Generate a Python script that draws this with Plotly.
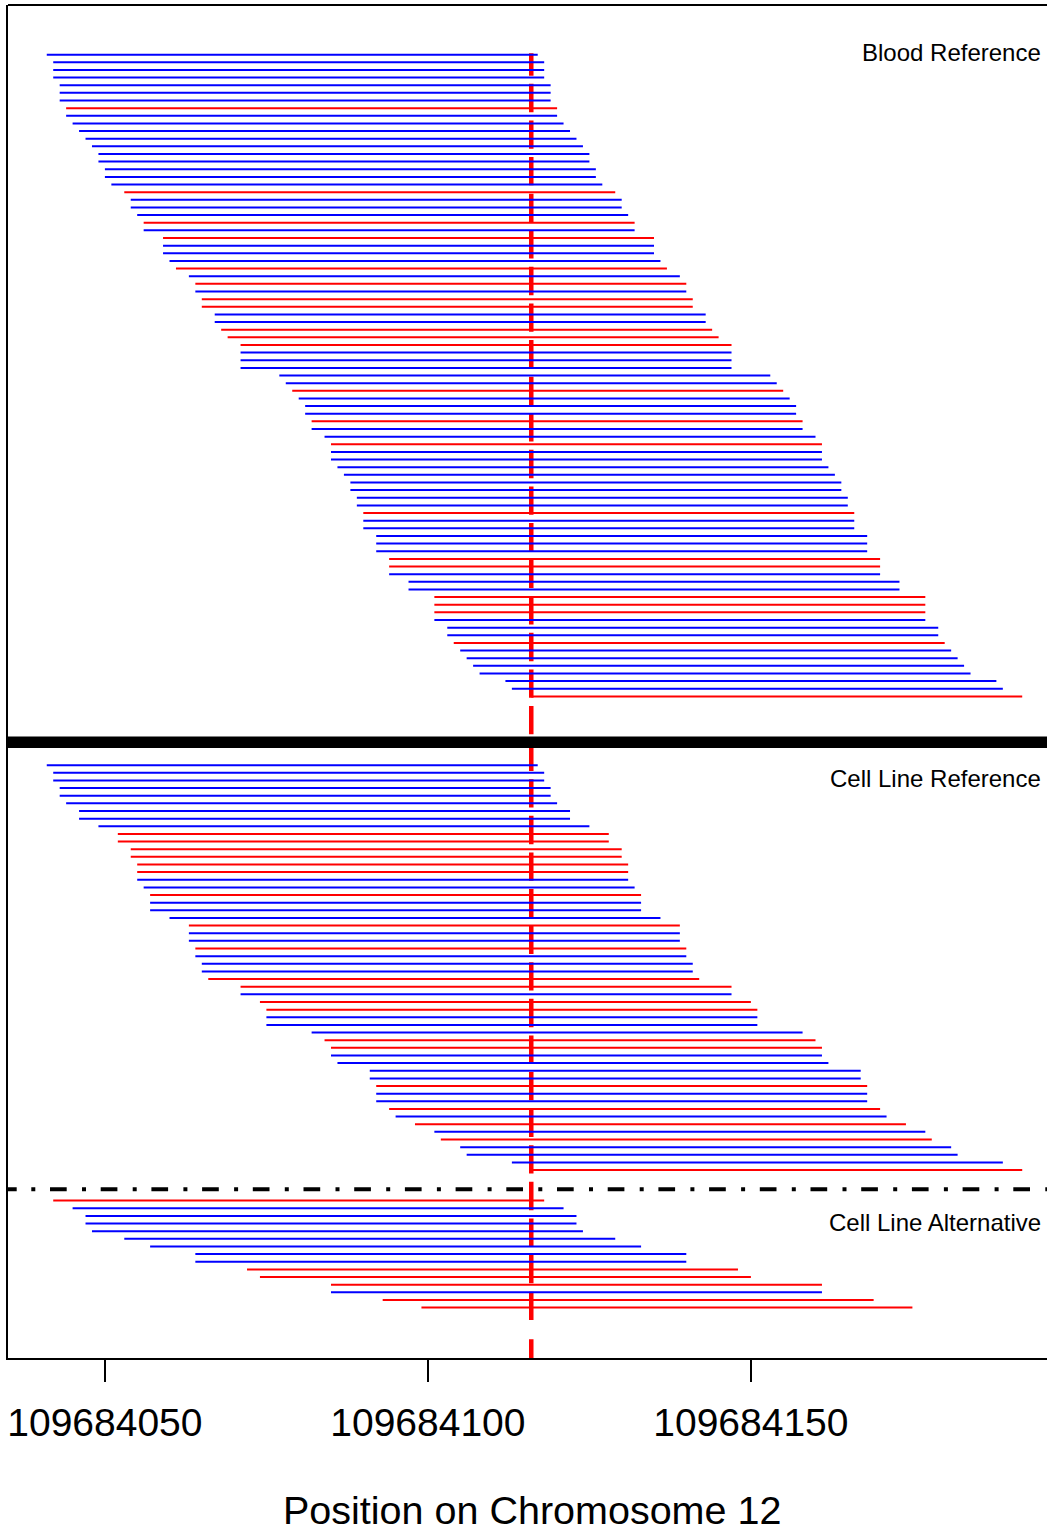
import plotly.graph_objects as go

# ---------------- data ----------------
BASE = 109684000          # chromosome offset
READ_LEN = 76             # read length (bp)
SNP_POS = 109684116       # position of the marked variant

# start offsets (bp after BASE) and strand of each read, top to bottom
blood_starts = [41, 42, 42, 42, 43, 43, 43, 44, 44, 45, 46, 47, 48, 49, 49, 50, 50, 51, 53, 54, 54, 55, 56, 56, 59,
                59, 59, 60, 61, 63, 64, 64, 65, 65, 67, 67, 68, 69, 71, 71, 71, 71, 77, 78, 79, 80, 81, 81, 82, 82,
                84, 85, 85, 85, 86, 87, 88, 88, 89, 89, 90, 90, 90, 92, 92, 92, 94, 94, 94, 97, 97, 101, 101, 101,
                101, 103, 103, 104, 105, 106, 107, 108, 112, 113, 116]
blood_strand = list("FFFFFFFRFFFFFFFFFFRFFFRFR"
                    "FFFRFRFRRFFRRRFFFFFRFFFRF"
                    "FRFFFFFFFFRFFFFFRRFFFRRRFFFRFFFFFFR")

cell_ref_starts = [41, 42, 42, 43, 43, 44, 46, 46, 49, 52, 52, 54, 54, 55, 55, 55, 56, 57, 57, 57, 60, 63, 63, 63,
                   64, 64, 65, 65, 66, 71, 71, 74, 75, 75, 75, 82, 84, 85, 85, 86, 91, 91, 92, 92, 92, 94, 95, 98,
                   101, 102, 105, 106, 113, 116]
cell_ref_strand = list("FFFFFFFFFRRRRRRFFRFFFRFFRFFFRRFRRFFFRRFFFFRFFRFRFRFFFR")

cell_alt_starts = [42, 45, 47, 47, 48, 53, 57, 64, 64, 72, 74, 85, 85, 93, 99]
cell_alt_strand = list("RFFFFFFFFRRRFRR")

tick_vals = [109684050, 109684100, 109684150]
tick_text = ["109684050", "109684100", "109684150"]

panel_labels = ["Blood Reference", "Cell Line Reference", "Cell Line Alternative"]
x_title = "Position on Chromosome 12"

# ---------------- layout constants ----------------
W, H = 1047, 1534
ML, MR, MT, MB = 8, 0, 5, 176
PX_PER_BP = 6.46
X0 = BASE + 35
X1 = X0 + (W - ML - MR) / PX_PER_BP
Y_MAX = 177.1

panel_first_row = [6.5, 99.5, 156.5]
thick_sep_y = 96.5
dashdot_sep_y = 155.0
label_rows = [6.2, 101.3, 159.3]

FONT = "Liberation Sans, Arial, Helvetica, sans-serif"
COLORS = {"F": "#0000FF", "R": "#FF0000"}

fig = go.Figure()

panels = [(blood_starts, blood_strand), (cell_ref_starts, cell_ref_strand), (cell_alt_starts, cell_alt_strand)]
for (starts, strands), first in zip(panels, panel_first_row):
    for s_key in ("F", "R"):
        xs, ys = [], []
        for i, (st, sd) in enumerate(zip(starts, strands)):
            if sd != s_key:
                continue
            y = first + i
            xs += [BASE + st, BASE + st + READ_LEN, None]
            ys += [y, y, None]
        fig.add_trace(go.Scatter(x=xs, y=ys, mode="lines",
                                 line=dict(color=COLORS[s_key], width=2),
                                 hoverinfo="skip", showlegend=False))


def dash_str(vals):
    return ",".join(f"{v:g}px" for v in vals)


red_dash = dash_str([22.7, 8.0] + [28.3, 8.3] * 33 + [28.3, 19.2, 60])
dd_dash = dash_str([8.7, 14.6, 4, 14.7] + [16.7, 15.3, 4, 14.7] * 22)

shapes = [
    # top frame line
    dict(type="line", xref="paper", yref="paper", x0=0, x1=1, y0=1, y1=1,
         line=dict(color="black", width=2), layer="above"),
    # variant position
    dict(type="line", xref="x", yref="y", x0=SNP_POS, x1=SNP_POS, y0=6.3, y1=Y_MAX,
         line=dict(color="#FF0000", width=4.5, dash=red_dash), layer="below"),
    # thick separator
    dict(type="line", xref="paper", yref="y", x0=0, x1=1, y0=thick_sep_y, y1=thick_sep_y,
         line=dict(color="black", width=11.5), layer="above"),
    # dot-dash separator
    dict(type="line", xref="paper", yref="y", x0=0, x1=1, y0=dashdot_sep_y, y1=dashdot_sep_y,
         line=dict(color="black", width=4, dash=dd_dash), layer="above"),
]

annotations = []
for lab, ry in zip(panel_labels, label_rows):
    annotations.append(dict(text=lab, xref="paper", yref="y", x=(1043 - ML) / (W - ML - MR), y=ry,
                            xanchor="right", yanchor="middle", showarrow=False,
                            font=dict(family=FONT, size=24, color="black")))
annotations.append(dict(text=x_title, xref="paper", yref="paper",
                        x=(531.5 - ML) / (W - ML - MR), y=(H - MB - 1510) / (H - MT - MB),
                        xanchor="center", yanchor="middle", showarrow=False,
                        font=dict(family=FONT, size=39.5, color="black")))

fig.update_layout(
    width=W, height=H,
    margin=dict(l=ML, r=MR, t=MT, b=MB, pad=0),
    paper_bgcolor="white", plot_bgcolor="white",
    showlegend=False,
    shapes=shapes, annotations=annotations,
    xaxis=dict(range=[X0, X1], tickvals=tick_vals, ticktext=tick_text,
               ticks="outside", ticklen=22, tickwidth=2, tickcolor="black",
               ticklabelstandoff=7,
               showline=True, linecolor="black", linewidth=2,
               showgrid=False, zeroline=False,
               tickfont=dict(family=FONT, size=39, color="black")),
    yaxis=dict(range=[Y_MAX, 0], showticklabels=False, ticks="",
               showline=True, linecolor="black", linewidth=2,
               showgrid=False, zeroline=False),
)

fig.write_html("out.html",
               config={"displayModeBar": False, "staticPlot": True},
               post_script="document.body.style.margin='0';document.body.style.overflow='hidden';")
